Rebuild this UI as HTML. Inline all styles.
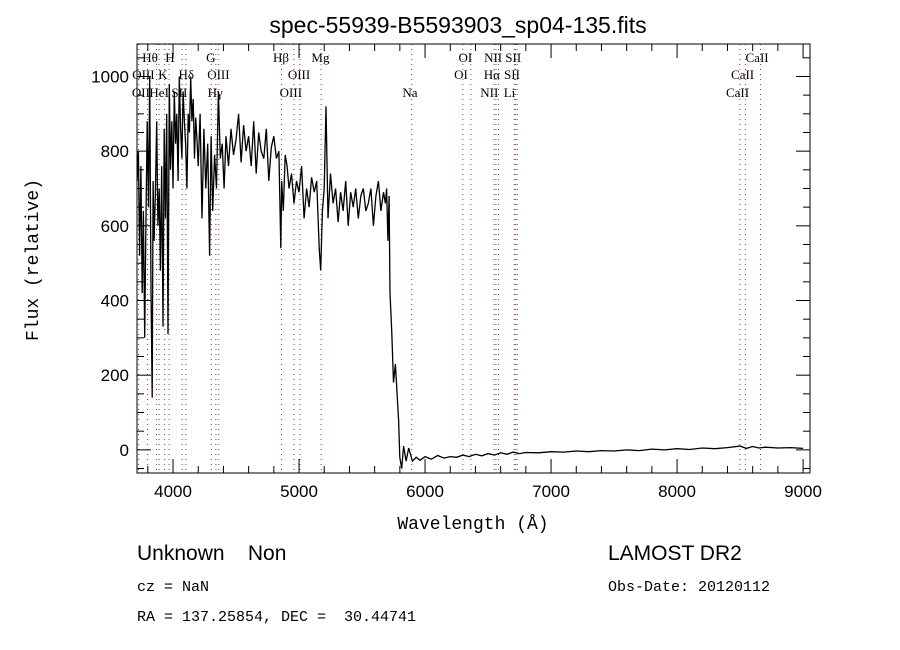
<!DOCTYPE html>
<html><head><meta charset="utf-8"><style>
body{margin:0;background:#fff;}
svg{display:block;font-family:"Liberation Sans",sans-serif;}
</style></head><body>
<svg id="chart" width="900" height="650" viewBox="0 0 900 650">
<rect width="900" height="650" fill="#fff"/>
<text x="458" y="33" font-size="23" text-anchor="middle">spec-55939-B5593903_sp04-135.fits</text>
<g id="lines"></g>
<g id="spec"></g>
<rect x="137" y="44" width="673" height="429" fill="none" stroke="#000" stroke-width="1"/>
<g id="axes"></g>
<text x="473" y="529" font-size="18" font-family="Liberation Mono,monospace" text-anchor="middle">Wavelength (Å)</text>
<text transform="translate(38,260) rotate(-90)" font-size="18" font-family="Liberation Mono,monospace" text-anchor="middle">Flux (relative)</text>
<text x="137" y="560" font-size="21" font-family="Liberation Sans,sans-serif" xml:space="preserve">Unknown    Non</text>
<text x="137" y="591" font-size="15" font-family="Liberation Mono,monospace">cz = NaN</text>
<text x="137" y="621" font-size="15" font-family="Liberation Mono,monospace" xml:space="preserve">RA = 137.25854, DEC =  30.44741</text>
<text x="608" y="560" font-size="21" font-family="Liberation Sans,sans-serif">LAMOST DR2</text>
<text x="608" y="591" font-size="15" font-family="Liberation Mono,monospace">Obs-Date: 20120112</text>
</svg>
<script>
const wave=[3715,3725,3735,3745,3755,3765,3775,3785,3795,3805,3815,3825,3835,3842,3850,3860,3870,3880,3890,3900,3910,3920,3930,3940,3950,3960,3970,3980,3990,4000,4010,4020,4030,4040,4050,4060,4070,4080,4090,4100,4110,4120,4130,4140,4150,4160,4170,4180,4190,4200,4215,4230,4245,4260,4275,4290,4302,4315,4330,4345,4360,4375,4390,4405,4420,4440,4460,4480,4500,4520,4540,4560,4580,4600,4620,4640,4660,4680,4700,4720,4740,4760,4780,4800,4820,4840,4855,4862,4875,4890,4905,4920,4940,4960,4980,5000,5020,5040,5060,5080,5100,5120,5140,5160,5172,5185,5200,5214,5230,5250,5270,5290,5310,5330,5350,5370,5390,5410,5430,5450,5470,5490,5510,5530,5550,5570,5590,5610,5630,5650,5670,5685,5695,5705,5715,5722,5735,5750,5765,5780,5790,5800,5815,5830,5850,5870,5900,5930,5960,6000,6050,6100,6150,6200,6250,6300,6350,6400,6450,6500,6550,6600,6650,6700,6750,6800,6900,7000,7100,7200,7300,7400,7500,7600,7700,7800,7900,8000,8100,8200,8300,8400,8500,8550,8600,8650,8700,8800,8900,9000,9050];
const flux=[720,800,520,760,420,640,300,600,880,650,1000,430,140,720,560,690,880,600,700,480,760,330,860,620,900,310,980,750,880,700,960,820,900,720,1000,860,780,960,880,820,700,900,850,1000,880,940,780,890,830,760,900,620,860,700,820,520,840,640,790,700,960,780,820,700,840,760,860,790,830,900,770,870,800,840,760,880,740,850,800,780,860,720,810,840,780,800,540,720,640,790,760,700,740,660,720,690,760,620,700,650,730,690,720,540,480,640,700,920,620,740,660,700,610,690,640,720,600,690,650,700,620,680,700,640,660,700,600,680,720,640,690,660,700,560,680,420,320,180,230,140,80,-20,-50,10,-30,5,-30,-20,-28,-18,-25,-15,-22,-18,-20,-14,-18,-12,-16,-10,-14,-8,-12,-6,-10,-7,-8,-5,-6,-3,-5,-2,-3,0,-2,2,0,3,1,5,3,6,10,4,9,5,7,5,6,4];
const lineWaves=[3727,3798,3869,3889,3934,3969,4072,4102,4304,4340,4363,4861,4959,5007,5175,5894,6300,6364,6548,6563,6583,6708,6717,6731,8498,8542,8662];
const labelText=["Hθ","H","G","Hβ","Mg","OI","NII","SII","CaII","OIII","K","Hδ","OIII","OIII","OI","Hα","SII","CaII","OII","HeI","SII","Hγ","OIII","Na","NII","Li","CaII"];
const labelWave=[3818,3975,4300,4857,5170,6320,6540,6700,8635,3765,3920,4105,4360,5000,6285,6530,6690,8520,3745,3890,4050,4335,4935,5880,6510,6670,8480];
const labelRow=[0,0,0,0,0,0,0,0,0,1,1,1,1,1,1,1,1,1,2,2,2,2,2,2,2,2,2];
const xTicks=[4000,5000,6000,7000,8000,9000];
const yTicks=[0,200,400,600,800,1000];
const X0=137,X1=810,Y0=473,Y1=44,WMIN=3714,WMAX=9055,FMIN=-62,FMAX=1087;
function xs(w){return X0+(w-WMIN)/(WMAX-WMIN)*(X1-X0);}
function ys(f){return Y0-(f-FMIN)/(FMAX-FMIN)*(Y0-Y1);}
const NS="http://www.w3.org/2000/svg";
function mk(t,a,p){const e=document.createElementNS(NS,t);for(const k in a)e.setAttribute(k,a[k]);p.appendChild(e);return e;}
const gl=document.getElementById('lines');
lineWaves.forEach(w=>{const l=mk('line',{x1:xs(w),x2:xs(w),y1:Y1,y2:Y0,stroke:'#8b3a3a','stroke-width':1,'stroke-dasharray':'1,4'},gl);

});
const rowY=[62,79,97];
labelText.forEach((t,i)=>{const e=mk('text',{x:xs(labelWave[i]),y:rowY[labelRow[i]],'font-size':13,'font-family':'Liberation Serif,serif','text-anchor':'middle'},gl);e.textContent=t;

});
const gs=document.getElementById('spec');
const pts=wave.map((w,i)=>xs(w).toFixed(1)+','+ys(flux[i]).toFixed(1)).join(' ');
const pl=mk('polyline',{points:pts,fill:'none',stroke:'#000','stroke-width':1.3},gs);


const ga=document.getElementById('axes');
for(let w=3800;w<=9000;w+=200){const maj=w%1000===0;const L=maj?14:7;
mk('line',{x1:xs(w),x2:xs(w),y1:Y0,y2:Y0-L,stroke:'#000'},ga);
mk('line',{x1:xs(w),x2:xs(w),y1:Y1,y2:Y1+L,stroke:'#000'},ga);}
for(let f=-50;f<=1050;f+=50){const maj=f%200===0;const L=maj?14:7;
mk('line',{x1:X0,x2:X0+L,y1:ys(f),y2:ys(f),stroke:'#000'},ga);
mk('line',{x1:X1,x2:X1-L,y1:ys(f),y2:ys(f),stroke:'#000'},ga);}
xTicks.forEach(v=>{const e=mk('text',{x:xs(v),y:Y0+24,'font-size':17,'text-anchor':'middle'},ga);e.textContent=v;

});
yTicks.forEach(v=>{const e=mk('text',{x:X0-8,y:ys(v)+6,'font-size':17,'text-anchor':'end'},ga);e.textContent=v;

});
</script>
</body></html>
